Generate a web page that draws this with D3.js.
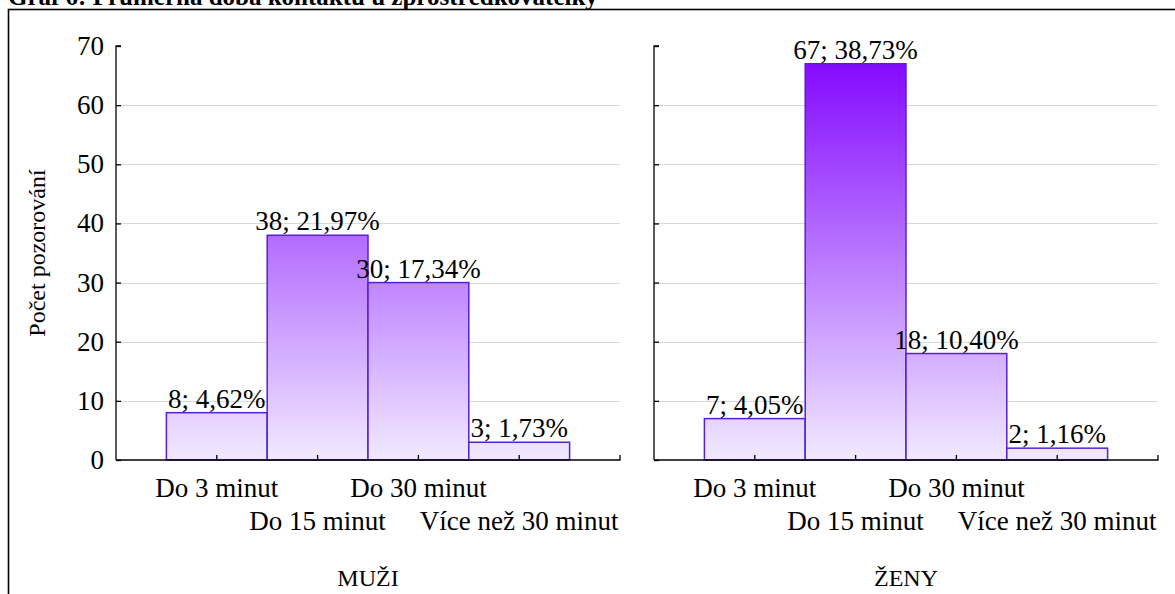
<!DOCTYPE html>
<html>
<head>
<meta charset="utf-8">
<script src="https://cdn.jsdelivr.net/npm/d3@7"></script>
<style>
  html, body { margin: 0; padding: 0; background: #fff; }
  svg { display: block; font-family: "Liberation Serif", "Times New Roman", serif; }
</style>
</head>
<body>
<svg id="chart" width="1175" height="594"></svg>
<script>
// Průměrná doba kontaktu u zprostředkovatelky – počty podle pohlaví
const title = "Graf 6: Průměrná doba kontaktu u zprostředkovatelky";
const categories = ["Do 3 minut", "Do 15 minut", "Do 30 minut", "Více než 30 minut"];
const panels = ["MUŽI", "ŽENY"];
const countsMen = [8, 38, 30, 3];
const pctMen = ["4,62%", "21,97%", "17,34%", "1,73%"];
const countsWomen = [7, 67, 18, 2];
const pctWomen = ["4,05%", "38,73%", "10,40%", "1,16%"];
const yTicks = [0, 10, 20, 30, 40, 50, 60, 70];
const yTitle = "Počet pozorování";

const series = [
  { name: panels[0], counts: countsMen, pct: pctMen },
  { name: panels[1], counts: countsWomen, pct: pctWomen }
];

const svg = d3.select("#chart");

// gradient shared by every bar, anchored to the plot's value range
const y = d3.scaleLinear().domain([0, 70]).range([460, 46]);
const defs = svg.append("defs");
const grad = defs.append("linearGradient")
  .attr("id", "barFill")
  .attr("gradientUnits", "userSpaceOnUse")
  .attr("x1", 0).attr("x2", 0)
  .attr("y1", y(70)).attr("y2", y(0));
grad.append("stop").attr("offset", 0).attr("stop-color", "#8000ff");
grad.append("stop").attr("offset", 1).attr("stop-color", "#f1eaff");

// outer frame and caption
svg.append("rect")
  .attr("x", 8.5).attr("y", 9.5)
  .attr("width", 1200).attr("height", 620)
  .attr("fill", "none").attr("stroke", "#000").attr("stroke-width", 1.6);

svg.append("text")
  .attr("x", 8).attr("y", 5)
  .attr("font-size", 25).attr("font-weight", "bold")
  .text(title);

// y-axis title
svg.append("text")
  .attr("transform", `translate(45,${(y(0) + y(70)) / 2}) rotate(-90)`)
  .attr("text-anchor", "middle")
  .attr("font-size", 24)
  .text(yTitle);

const panelLeft = [116, 654];
const panelWidth = 504;

series.forEach((s, pi) => {
  const x0 = panelLeft[pi];
  const x = d3.scaleBand()
    .domain(categories)
    .range([x0, x0 + panelWidth])
    .paddingInner(0)
    .paddingOuter(0.5);

  const g = svg.append("g");

  // horizontal grid
  g.selectAll("line.grid")
    .data(yTicks.filter(t => t > 0 && t < 70))
    .join("line")
    .attr("class", "grid")
    .attr("x1", x0).attr("x2", x0 + panelWidth)
    .attr("y1", d => Math.round(y(d)) + 0.5).attr("y2", d => Math.round(y(d)) + 0.5)
    .attr("stroke", "#d9d9d9").attr("stroke-width", 1);

  // bars
  g.selectAll("rect.bar")
    .data(s.counts)
    .join("rect")
    .attr("class", "bar")
    .attr("x", (d, i) => x(categories[i]))
    .attr("y", d => y(d))
    .attr("width", x.bandwidth())
    .attr("height", d => y(0) - y(d))
    .attr("fill", "url(#barFill)")
    .attr("stroke", "#5420d4").attr("stroke-width", 1.5);

  // value labels
  g.selectAll("text.val")
    .data(s.counts)
    .join("text")
    .attr("class", "val")
    .attr("x", (d, i) => x(categories[i]) + x.bandwidth() / 2)
    .attr("y", d => y(d) - 5)
    .attr("text-anchor", "middle")
    .attr("font-size", 27)
    .text((d, i) => `${d}; ${s.pct[i]}`);

  // y axis with inward ticks
  const yAxis = d3.axisRight(y).tickValues(yTicks).tickSize(5).tickFormat("");
  const ya = g.append("g").attr("transform", `translate(${x0},0)`).call(yAxis);
  ya.select(".domain").attr("d", `M5,${y(70)}H0V${y(0)}`).attr("stroke-width", 1.3);
  ya.selectAll(".tick line").attr("stroke-width", 1.3);
  ya.selectAll(".tick text").remove();

  if (pi === 0) {
    g.selectAll("text.ytick")
      .data(yTicks)
      .join("text")
      .attr("class", "ytick")
      .attr("x", x0 - 12)
      .attr("y", d => y(d) + 9)
      .attr("text-anchor", "end")
      .attr("font-size", 27)
      .text(d => d);
  }

  // x axis with upward ticks at band centres and at the end
  const xAxis = d3.axisTop(x).tickSize(5).tickSizeOuter(0).tickFormat("");
  const xa = g.append("g").attr("transform", `translate(0,${y(0)})`).call(xAxis);
  xa.select(".domain").attr("d", `M${x0},0H${x0 + panelWidth}V-5`).attr("stroke-width", 1.3);
  xa.selectAll(".tick line").attr("stroke-width", 1.3);
  xa.selectAll(".tick text").remove();

  // staggered category labels
  g.selectAll("text.cat")
    .data(categories)
    .join("text")
    .attr("class", "cat")
    .attr("x", d => x(d) + x.bandwidth() / 2)
    .attr("y", (d, i) => i % 2 === 0 ? 497 : 530)
    .attr("text-anchor", "middle")
    .attr("font-size", 27)
    .text(d => d);

  // panel caption
  g.append("text")
    .attr("x", x0 + panelWidth / 2)
    .attr("y", 586)
    .attr("text-anchor", "middle")
    .attr("font-size", 24)
    .text(s.name);
});
</script>
</body>
</html>
